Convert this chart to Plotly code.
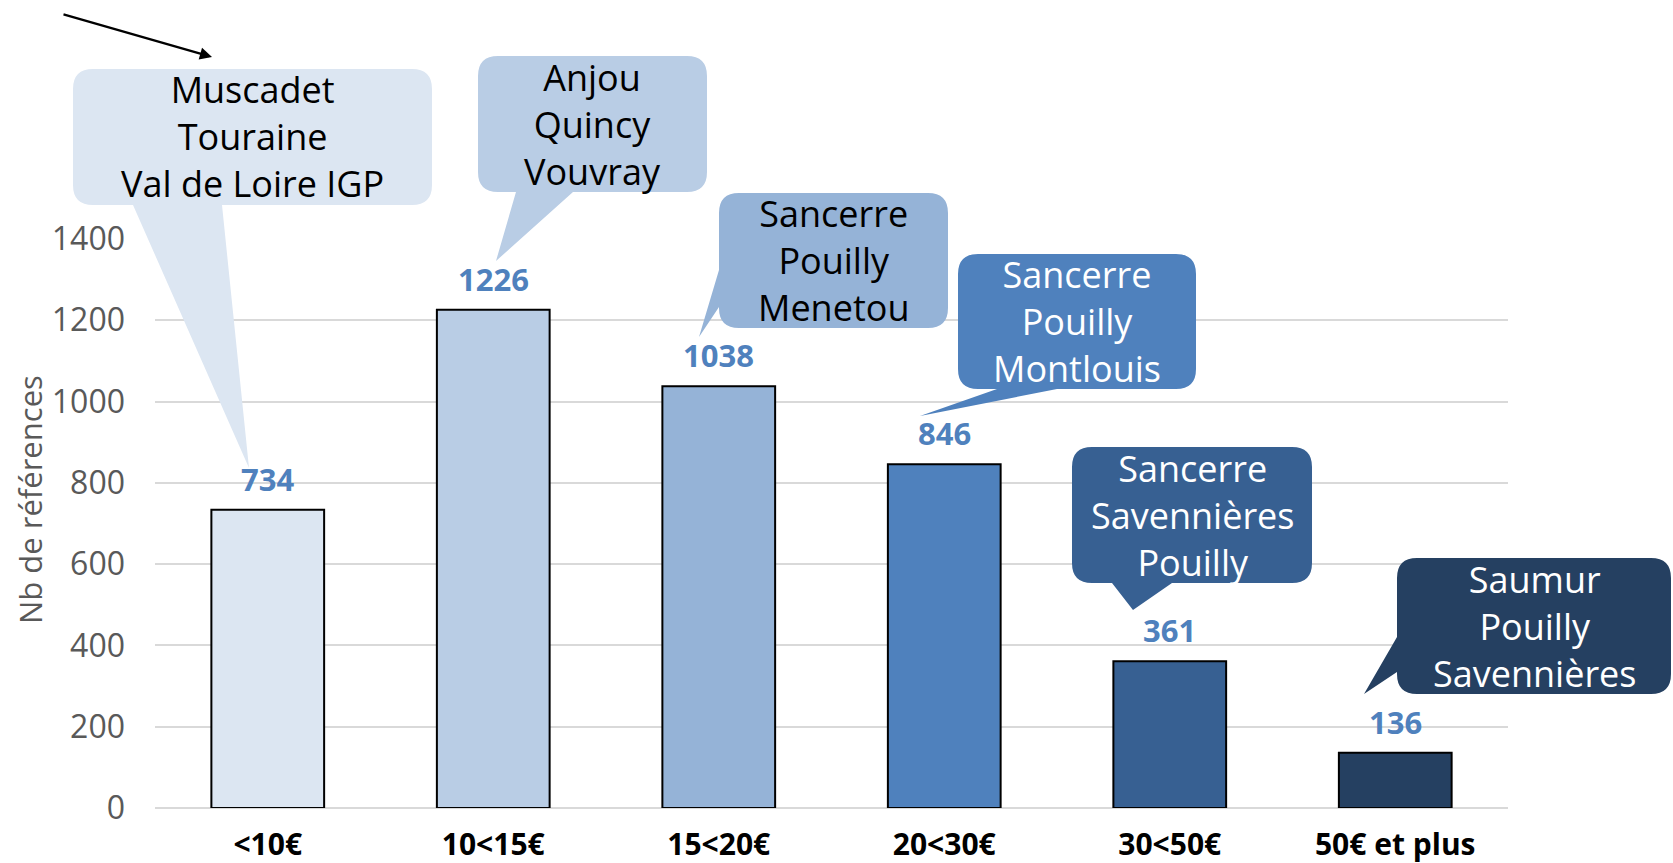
import plotly.graph_objects as go

# Nombre de références par tranche de prix
categories = ["<10€", "10<15€", "15<20€", "20<30€", "30<50€", "50€ et plus"]
values = [734, 1226, 1038, 846, 361, 136]
bar_colors = ["#dce6f2", "#b9cde5", "#95b3d7", "#4f81bd", "#376092", "#254061"]
callout_texts = [
    "Muscadet<br>Touraine<br>Val de Loire IGP",
    "Anjou<br>Quincy<br>Vouvray",
    "Sancerre<br>Pouilly<br>Menetou",
    "Sancerre<br>Pouilly<br>Montlouis",
    "Sancerre<br>Savennières<br>Pouilly",
    "Saumur<br>Pouilly<br>Savennières",
]
callout_text_colors = ["black", "black", "black", "white", "white", "white"]
y_ticks = [0, 200, 400, 600, 800, 1000, 1200, 1400]

FONT = "Open Sans"
W, H = 1673, 863
# plot area in pixels
L, R, T, B = 155, 1508, 239, 808


def px(x, y):
    # pixel -> paper coordinates
    return (x - L) / (R - L), (B - y) / (B - T)


# callout boxes (pixel layout): box x0,y0,x1,y1, tail side, base a,b, tip
callout_geom = [
    ((73, 69, 432, 205), "bottom", 133, 222, (249, 468)),
    ((478, 56, 707, 192), "bottom", 516, 573, (496, 261)),
    ((719, 193, 948, 328), "left", 270, 307, (699, 337)),
    ((958, 254, 1196, 389), "bottom", 997, 1057, (920, 416)),
    ((1072, 447, 1312, 583), "bottom", 1112, 1172, (1133, 610)),
    ((1397, 558, 1671, 694), "left", 637, 672, (1364, 694)),
]


def callout_path(box, side, a, b, tip, r=20):
    x0, y0, x1, y1 = box
    cmds = []

    def M(x, y):
        cmds.append("M %.5f,%.5f" % px(x, y))

    def Lp(x, y):
        cmds.append("L %.5f,%.5f" % px(x, y))

    def Q(cx, cy, x, y):
        c = px(cx, cy)
        e = px(x, y)
        cmds.append("Q %.5f,%.5f %.5f,%.5f" % (c[0], c[1], e[0], e[1]))

    M(x0 + r, y0)
    Lp(x1 - r, y0)
    Q(x1, y0, x1, y0 + r)
    Lp(x1, y1 - r)
    Q(x1, y1, x1 - r, y1)
    if side == "bottom":
        Lp(b, y1)
        Lp(*tip)
        Lp(a, y1)
    Lp(x0 + r, y1)
    Q(x0, y1, x0, y1 - r)
    if side == "left":
        Lp(x0, b)
        Lp(*tip)
        Lp(x0, a)
    Lp(x0, y0 + r)
    Q(x0, y0, x0 + r, y0)
    cmds.append("Z")
    return " ".join(cmds)


fig = go.Figure()
fig.add_trace(go.Bar(
    x=categories,
    y=values,
    marker=dict(color=bar_colors, line=dict(color="black", width=2)),
    width=0.5,
    hoverinfo="x+y",
))

# value labels above bars
for c, v in zip(categories, values):
    fig.add_annotation(
        x=c, y=v, xref="x", yref="y", text="<b>%d</b>" % v,
        showarrow=False, yanchor="middle", yshift=31,
        font=dict(family=FONT, size=31, color="#4f81bd"),
    )

shapes = []
for (box, side, a, b, tip), col, txt, tcol in zip(
        callout_geom, bar_colors, callout_texts, callout_text_colors):
    shapes.append(dict(
        type="path", xref="paper", yref="paper",
        path=callout_path(box, side, a, b, tip),
        fillcolor=col, line=dict(width=0), layer="above",
    ))
    cx, cy = px((box[0] + box[2]) / 2, (box[1] + box[3]) / 2)
    fig.add_annotation(
        x=cx, y=cy, xref="paper", yref="paper", text=txt,
        showarrow=False, align="center", xanchor="center", yanchor="middle",
        font=dict(family=FONT, size=36, color=tcol),
    )

# arrow at top left
tx, ty = px(212, 57)
fig.add_annotation(
    x=tx, y=ty, xref="paper", yref="paper", text="",
    showarrow=True, ax=-150, ay=-43, arrowhead=2, arrowsize=1.1,
    arrowwidth=2.2, arrowcolor="black",
)

# y axis title
yx, yy = px(30, 500)
fig.add_annotation(
    x=yx, y=yy, xref="paper", yref="paper", text="Nb de références",
    textangle=-90, showarrow=False, xanchor="center", yanchor="middle",
    font=dict(family=FONT, size=31, color="#595959"),
)

fig.update_layout(
    width=W, height=H,
    margin=dict(l=L, r=W - R, t=T, b=H - B, autoexpand=False),
    plot_bgcolor="white", paper_bgcolor="white",
    showlegend=False,
    shapes=shapes,
    bargap=0.5,
    font=dict(family=FONT),
)
fig.update_xaxes(
    tickfont=dict(family=FONT, size=30, color="black", weight="bold"),
    showline=False, showgrid=False, ticks="", automargin=False,
    ticklabelstandoff=16,
)
fig.update_yaxes(
    range=[0, 1400], tickvals=y_ticks, automargin=False,
    tickfont=dict(family=FONT, size=32, color="#595959"),
    showgrid=True, gridcolor="#d9d9d9", gridwidth=2,
    zeroline=True, zerolinecolor="#d9d9d9", zerolinewidth=2,
    showline=False, ticks="", ticklabelstandoff=29,
)

fig.write_html("out.html", config={"displayModeBar": False},
               post_script="document.body.style.margin='0';")
